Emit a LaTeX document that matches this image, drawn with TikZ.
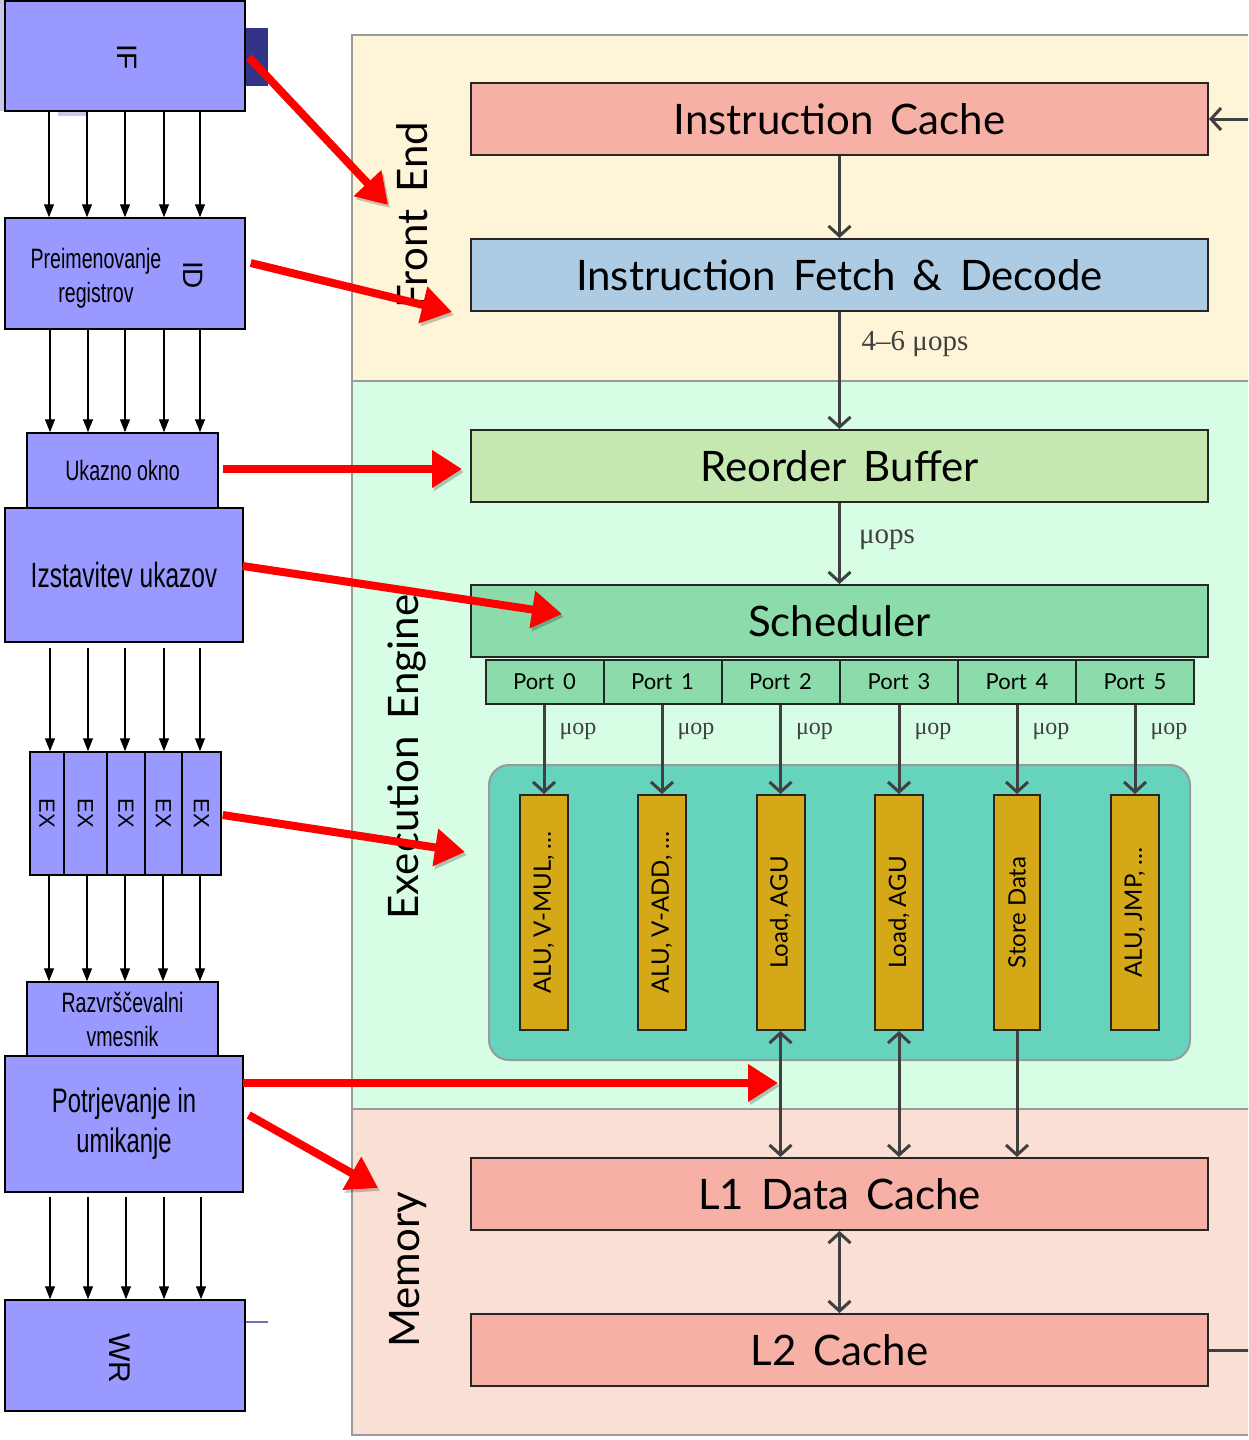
\documentclass[tikz,border=0pt]{standalone}
\usepackage{fontspec}
\usetikzlibrary{arrows.meta}
\newfontfamily\bio[WordSpace=1.6]{Lato}
\newfontfamily\biounit[Scale=0.999]{Lato}
\newfontfamily\narrowf[FakeStretch=0.7]{Liberation Sans}
\newfontfamily\arialf{Liberation Sans}
\newfontfamily\serf{Liberation Serif}
\definecolor{feBG}{HTML}{FEF4D7}
\definecolor{eeBG}{HTML}{D7FDE5}
\definecolor{memBG}{HTML}{FADFD4}
\definecolor{salmon}{HTML}{F6B0A6}
\definecolor{ifdblue}{HTML}{ADCBE2}
\definecolor{robgreen}{HTML}{C5E8B0}
\definecolor{schgreen}{HTML}{8BDCAA}
\definecolor{tealgrp}{HTML}{66D3BC}
\definecolor{goldunit}{HTML}{D4A817}
\definecolor{lav}{HTML}{9999FF}
\definecolor{navybox}{HTML}{333388}
\definecolor{dgray}{HTML}{404040}
\definecolor{pgray}{HTML}{9A9A9A}
\definecolor{palelav}{HTML}{C8C8E8}
\tikzset{
  bigbox/.style={draw=black!85, line width=2pt, inner sep=0pt, minimum width=737pt, minimum height=72pt, font=\bio\fontsize{42}{50}\selectfont},
  portbox/.style={draw=black!85, line width=2pt, fill=schgreen, inner sep=0pt, minimum width=118pt, minimum height=44pt, font=\bio\fontsize{22}{26}\selectfont},
  unitbox/.style={draw=black!85, line width=2pt, fill=goldunit, inner sep=0pt, rotate=90, minimum width=235pt, minimum height=48pt, font=\biounit\fontsize{24}{28}\selectfont},
  panel/.style={draw=pgray, line width=2pt},
  panellabel/.style={rotate=90, font=\bio\fontsize{42}{50}\selectfont},
  garrow/.style={draw=dgray, line width=3pt, -{Straight Barb[length=10pt,width=22pt]}},
  gboth/.style={draw=dgray, line width=3pt, {Straight Barb[length=10pt,width=22pt]}-{Straight Barb[length=10pt,width=22pt]}},
  gline/.style={draw=dgray, line width=3pt},
  muop/.style={font=\serf\fontsize{24}{28}\selectfont, text=dgray},
  muops/.style={font=\serf\fontsize{29}{33}\selectfont, text=dgray},
  lbox/.style={draw=black, line width=1.5pt, fill=lav, inner sep=0pt, align=center},
  lrot/.style={rotate=-90, font=\arialf\fontsize{28}{32}\selectfont},
  tarrow/.style={draw=black, line width=1.2pt, -{Triangle[length=13pt,width=10pt]}},
  redarrow/.style={draw=red, line width=8pt, -{Triangle[length=30pt,width=36pt]},
    preaction={draw=black, opacity=0.22, transform canvas={shift={(2pt,-3pt)}}}},
}
\begin{document}
\begin{tikzpicture}[x=1pt,y=-1pt]
\clip (0,0) rectangle (1248,1440);
\useasboundingbox (0,0) rectangle (1248,1440);
\fill[white] (0,0) rectangle (1248,1440);

% ---------- panels ----------
\path[panel, fill=feBG] (352,35) rectangle (1262,381);
\path[panel, fill=eeBG] (352,381) rectangle (1262,1109);
\path[panel, fill=memBG] (352,1109) rectangle (1262,1435);
\node[panellabel] (felbl) at (412,215) {Front End};
\node[panellabel] (eelbl) at (407,757) {Execution Engine};
\node[panellabel] (memlbl) at (408,1270) {Memory};

% ---------- right side boxes ----------
\node[bigbox, fill=salmon] (ic) at (839.5,119) {Instruction Cache};
\node[bigbox, fill=ifdblue] (ifd) at (839.5,275) {Instruction Fetch \& Decode};
\node[bigbox, fill=robgreen] (rob) at (839.5,466) {Reorder Buffer};
\node[bigbox, fill=schgreen] (sch) at (839.5,621) {Scheduler};
\node[bigbox, fill=salmon] (l1) at (839.5,1194) {L1 Data Cache};
\node[bigbox, fill=salmon] (l2) at (839.5,1350) {L2 Cache};

\node[portbox] (p0) at (544.5,682) {Port 0};
\node[portbox] (p1) at (662.5,682) {Port 1};
\node[portbox] (p2) at (780.5,682) {Port 2};
\node[portbox] (p3) at (899,682) {Port 3};
\node[portbox] (p4) at (1017,682) {Port 4};
\node[portbox] (p5) at (1135,682) {Port 5};

\path[draw=pgray, line width=2pt, fill=tealgrp, rounded corners=20pt] (489,765) rectangle (1190,1060);

\node[unitbox] (u0) at (544,912.5) {ALU, V-MUL, \dots};
\node[unitbox] (u1) at (662,912.5) {ALU, V-ADD, \dots};
\node[unitbox] (u2) at (780.5,912.5) {Load, AGU};
\node[unitbox] (u3) at (899,912.5) {Load, AGU};
\node[unitbox, minimum height=46pt] (u4) at (1017,912.5) {Store Data};
\node[unitbox] (u5) at (1135,912.5) {ALU, JMP, \dots};

% connectors right
\coordinate (icin) at (1262,119);
\coordinate (l2out) at (1262,1350);
\draw[garrow] (icin) -- (ic.east);
\draw[gline] (l2.east) -- (l2out);
\draw[garrow] (ic) -- (ifd);
\draw[garrow] (ifd) -- (rob);
\node[muops] (lbl46) at (915,344) {4–6 μops};
\draw[garrow] (rob) -- (sch);
\node[muops] (lblmu) at (887,540) {μops};
\foreach \i/\xx in {0/544,1/662,2/780.5,3/899,4/1017,5/1135}{
  \draw[garrow] (\xx,0 |- p\i.south) -- (\xx,0 |- u\i.east);
  \node[muop] (m\i) at (\xx+34,731) {μop};
}
\draw[gboth] (u2.west) -- (780.5,0 |- l1.north);
\draw[gboth] (u3.west) -- (899,0 |- l1.north);
\draw[garrow] (u4.west) -- (1017,0 |- l1.north);
\draw[gboth] (l1) -- (l2);

% ---------- left column ----------
\fill[palelav] (0,0) rectangle (5,111);
\fill[palelav] (58,111) rectangle (86,116);
\node[fill=navybox, inner sep=0pt, minimum width=23pt, minimum height=58pt] (sq) at (256.5,57) {};
\node[lbox, minimum width=240pt, minimum height=110pt] (IF) at (125,56) {};
\node[lrot] (iflbl) at (127,57) {IF};
\node[lbox, minimum width=240pt, minimum height=111pt] (ID) at (125,273.5) {};
\node[font=\narrowf\fontsize{28}{34}\selectfont, align=center] (idtxt) at (96,278) {Preimenovanje\\registrov};
\node[lrot] (idlbl) at (193,275) {ID};
\node[lbox, minimum width=191pt, minimum height=75pt, font=\narrowf\fontsize{28}{34}\selectfont] (UK) at (122.5,470.5) {Ukazno okno};
\node[lbox, minimum width=238pt, minimum height=134pt, font=\narrowf\fontsize{35}{40}\selectfont] (IZ) at (124,575) {Izstavitev ukazov};
\foreach \n/\xx/\w in {1/47/34,2/85.5/43,3/126/38,4/163.5/37,5/201.5/39}{
  \node[lbox, minimum width=\w pt, minimum height=123pt] (EX\n) at (\xx,813.5) {};
  \node[rotate=-90, font=\arialf\fontsize{22}{26}\selectfont] (ext\n) at (\xx,813.5) {EX};
}
\node[lbox, minimum width=191pt, minimum height=74pt, font=\narrowf\fontsize{28}{34}\selectfont] (RV) at (122.5,1019) {Razvrščevalni\\vmesnik};
\node[lbox, minimum width=238pt, minimum height=136pt, font=\narrowf\fontsize{34}{40}\selectfont] (PU) at (124,1124) {Potrjevanje in\\umikanje};
\node[lbox, minimum width=240pt, minimum height=111pt] (WR) at (125,1355.5) {};
\node[lrot, font=\arialf\fontsize{30}{34}\selectfont] (wrlbl) at (120,1358) {WR};
\coordinate (wrstub) at (268,1322);
\draw[draw=navybox!70, line width=2pt] ([yshift=33.5pt]WR.east) -- (wrstub);

\foreach \xx in {49,87,125,164,200} \draw[tarrow] (\xx,0 |- IF.south) -- (\xx,0 |- ID.north);
\foreach \xx in {50,88,125,164,200} \draw[tarrow] (\xx,0 |- ID.south) -- (\xx,0 |- UK.north);
\foreach \xx in {50,88,125,164,200} \draw[tarrow] ([yshift=-5pt]\xx,0 |- IZ.south) -- (\xx,0 |- EX1.north);
\foreach \xx in {49,87,125,163,200} \draw[tarrow] (\xx,0 |- EX1.south) -- (\xx,0 |- RV.north);
\foreach \xx in {50,88,126,164,201} \draw[tarrow] ([yshift=-4pt]\xx,0 |- PU.south) -- (\xx,0 |- WR.north);

% ---------- red arrows ----------
\coordinate (r1) at (388,205);
\coordinate (r2) at (452,312);
\coordinate (r3) at (462,469);
\coordinate (r4) at (562,614);
\coordinate (r5) at (465,852);
\coordinate (r6) at (778,1083);
\coordinate (r7) at (378,1188);
\draw[redarrow] ([shift={(3pt,-1pt)}]IF.east) -- (r1);
\draw[redarrow] ([shift={(5pt,10.5pt)}]ID.east) -- (r2);
\draw[redarrow] ([shift={(4pt,1.5pt)}]UK.east) -- (r3);
\draw[redarrow] ([shift={(-1pt,9pt)}]IZ.east) -- (r4);
\draw[redarrow] ([shift={(1pt,-1.5pt)}]EX5.east) -- (r5);
\draw[redarrow] ([shift={(-1pt,41pt)}]PU.east) -- (r6);
\draw[redarrow] ([shift={(5pt,9pt)}]PU.east) -- (r7);
\end{tikzpicture}
\end{document}
